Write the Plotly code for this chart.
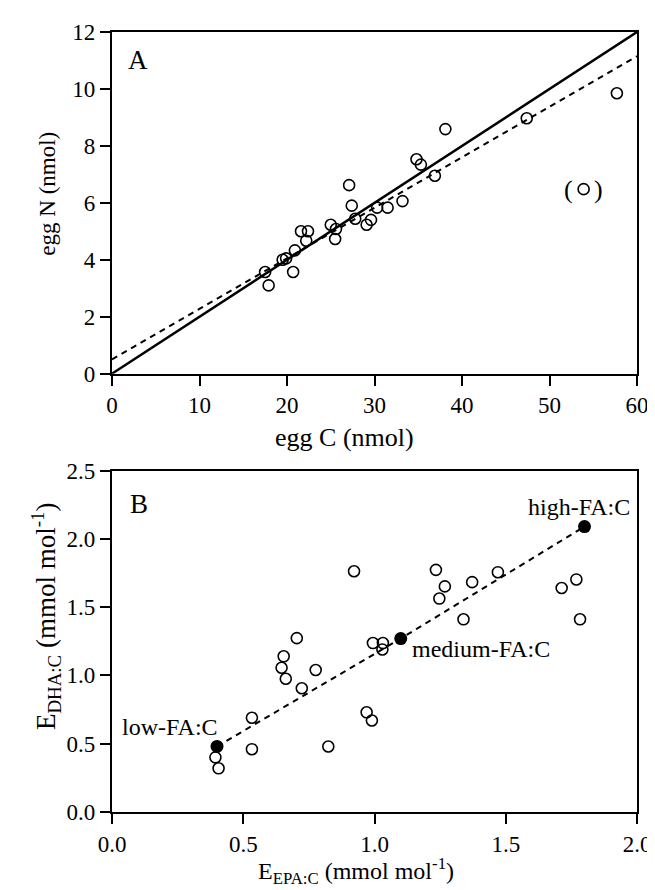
import plotly.graph_objects as go

# ---------------- Panel A data ----------------
egg_C = [17.5, 17.9, 19.5, 19.9, 20.7, 20.9, 21.6, 22.2, 22.4, 25.0, 25.6, 25.5, 27.1,
         27.4, 27.8, 29.1, 29.6, 30.3, 31.5, 33.2, 34.8, 35.3, 36.9, 38.1, 47.4, 57.7]
egg_N = [3.57, 3.10, 4.00, 4.05, 3.57, 4.33, 5.00, 4.67, 5.00, 5.23, 5.08, 4.73, 6.62,
         5.90, 5.44, 5.23, 5.40, 5.83, 5.83, 6.06, 7.53, 7.34, 6.95, 8.59, 8.97, 9.85]
outlier_C = [53.9]
outlier_N = [6.48]
line_x = [0, 60]
solid_y = [0.0, 12.0]
dashed_y = [0.5, 11.15]
xticks_A = [0, 10, 20, 30, 40, 50, 60]
yticks_A = [0, 2, 4, 6, 8, 10, 12]

# ---------------- Panel B data ----------------
EPA = [0.394, 0.406, 0.533, 0.533, 0.646, 0.654, 0.662, 0.704, 0.723, 0.776, 0.824, 0.922, 0.970,
       0.990, 0.994, 1.032, 1.030, 1.234, 1.247, 1.268, 1.339, 1.372, 1.470, 1.713, 1.769, 1.783]
DHA = [0.40, 0.32, 0.69, 0.46, 1.056, 1.14, 0.976, 1.273, 0.906, 1.04, 0.48, 1.763, 0.73,
       0.67, 1.237, 1.237, 1.19, 1.773, 1.563, 1.652, 1.411, 1.683, 1.756, 1.64, 1.703, 1.411]
group_names = ["low-FA:C", "medium-FA:C", "high-FA:C"]
group_EPA = [0.40, 1.10, 1.80]
group_DHA = [0.48, 1.27, 2.09]
xticks_B = [0.0, 0.5, 1.0, 1.5, 2.0]
yticks_B = [0.0, 0.5, 1.0, 1.5, 2.0, 2.5]

FONT = "Liberation Serif"
BLACK = "black"

fig = go.Figure()

# Panel A
fig.add_trace(go.Scatter(x=line_x, y=solid_y, mode="lines",
                         line=dict(color=BLACK, width=2.5), xaxis="x", yaxis="y",
                         showlegend=False, hoverinfo="skip"))
fig.add_trace(go.Scatter(x=line_x, y=dashed_y, mode="lines",
                         line=dict(color=BLACK, width=2, dash="6px,5px"), xaxis="x", yaxis="y",
                         showlegend=False, hoverinfo="skip"))
fig.add_trace(go.Scatter(x=egg_C, y=egg_N, mode="markers",
                         marker=dict(symbol="circle-open", size=11, color=BLACK, line=dict(width=1.6)),
                         xaxis="x", yaxis="y", showlegend=False))
fig.add_trace(go.Scatter(x=outlier_C, y=outlier_N, mode="markers",
                         marker=dict(symbol="circle-open", size=11, color=BLACK, line=dict(width=1.6)),
                         xaxis="x", yaxis="y", showlegend=False))

# Panel B
fig.add_trace(go.Scatter(x=EPA, y=DHA, mode="markers",
                         marker=dict(symbol="circle-open", size=11, color=BLACK, line=dict(width=1.6)),
                         xaxis="x2", yaxis="y2", showlegend=False))
fig.add_trace(go.Scatter(x=group_EPA, y=group_DHA, mode="lines+markers",
                         line=dict(color=BLACK, width=2, dash="6px,5px"),
                         marker=dict(symbol="circle", size=13, color=BLACK),
                         xaxis="x2", yaxis="y2", showlegend=False))

axis_common = dict(showline=True, linewidth=2.2, linecolor=BLACK, mirror=True,
                   ticks="outside", ticklen=10, tickwidth=2, tickcolor=BLACK,
                   showgrid=False, zeroline=False, ticklabelstandoff=0,
                   tickfont=dict(family=FONT, size=23, color=BLACK))

fig.update_layout(
    width=655, height=890,
    margin=dict(l=104, r=16, t=17, b=86),
    paper_bgcolor="white", plot_bgcolor="white",
    font=dict(family=FONT, color=BLACK),
    xaxis=dict(domain=[0, 1], range=[0, 60], tickvals=xticks_A, anchor="y", **axis_common),
    yaxis=dict(domain=[0.562, 1], range=[0, 12], tickvals=yticks_A, anchor="x", **axis_common),
    xaxis2=dict(domain=[0, 1], range=[0, 2], tickvals=xticks_B, tickformat=".1f", anchor="y2", **axis_common),
    yaxis2=dict(domain=[0, 0.4377], range=[0, 2.5], tickvals=yticks_B, tickformat=".1f", anchor="x2", **axis_common),
)

ann = []
# panel letters
ann.append(dict(x=1.6, y=11.0, xref="x", yref="y", text="A", showarrow=False,
                xanchor="left", yanchor="middle", font=dict(family=FONT, size=27)))
ann.append(dict(x=0.06, y=2.257, xref="x2", yref="y2", text="B", showarrow=False,
                xanchor="left", yanchor="middle", font=dict(family=FONT, size=27)))
# parentheses around outlier
ann.append(dict(x=outlier_C[0], y=outlier_N[0], xref="x", yref="y", text="(", showarrow=False,
                xanchor="center", yanchor="middle", xshift=-15, font=dict(family=FONT, size=26)))
ann.append(dict(x=outlier_C[0], y=outlier_N[0], xref="x", yref="y", text=")", showarrow=False,
                xanchor="center", yanchor="middle", xshift=15, font=dict(family=FONT, size=26)))
# group labels
ann.append(dict(x=group_EPA[0], y=group_DHA[0], xref="x2", yref="y2", text=group_names[0],
                showarrow=False, xanchor="right", yanchor="middle", xshift=3, yshift=19,
                font=dict(family=FONT, size=24)))
ann.append(dict(x=group_EPA[1], y=group_DHA[1], xref="x2", yref="y2", text=group_names[1],
                showarrow=False, xanchor="left", yanchor="middle", xshift=9, yshift=-10,
                font=dict(family=FONT, size=24)))
ann.append(dict(x=group_EPA[2], y=group_DHA[2], xref="x2", yref="y2", text=group_names[2],
                showarrow=False, xanchor="center", yanchor="middle", xshift=-6, yshift=20,
                font=dict(family=FONT, size=24)))
# axis titles
ann.append(dict(x=0.443, y=0.4803, xref="paper", yref="paper", text="egg C (nmol)",
                xanchor="center", yanchor="middle",
                showarrow=False, font=dict(family=FONT, size=26)))
ann.append(dict(x=-0.1234, y=0.793, xref="paper", yref="paper", text="egg N (nmol)",
                xanchor="center", yanchor="middle",
                showarrow=False, textangle=-90, font=dict(family=FONT, size=23)))
ann.append(dict(x=0.465, y=-0.075, xref="paper", yref="paper",
                text="E<sub>EPA:C</sub> (mmol mol<sup>-1</sup>)",
                xanchor="center", yanchor="middle",
                showarrow=False, font=dict(family=FONT, size=24)))
ann.append(dict(x=-0.127, y=0.2516, xref="paper", yref="paper",
                text="E<sub>DHA:C</sub> (mmol mol<sup>-1</sup>)",
                xanchor="center", yanchor="middle",
                showarrow=False, textangle=-90, font=dict(family=FONT, size=27)))
fig.update_layout(annotations=ann)

fig.write_html("out.html")
